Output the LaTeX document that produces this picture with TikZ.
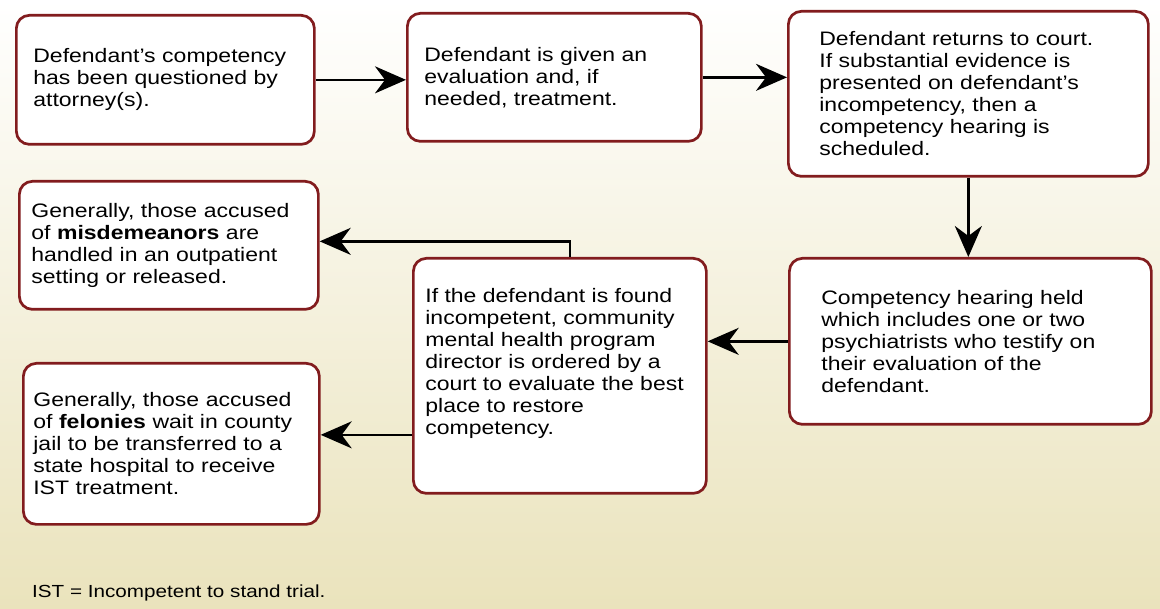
\documentclass[tikz,border=0pt]{standalone}
\usepackage{fontspec}
\setmainfont{Liberation Sans}[FakeStretch=1.18]
\usepackage{tikz}
\usetikzlibrary{calc,positioning,arrows.meta}
\definecolor{boxred}{RGB}{130,28,30}
\definecolor{paper}{RGB}{234,227,188}
\tikzset{stepbox/.style={
        draw=boxred,
        line width=2.7pt,
        rounded corners=13pt,
        fill=white,
        align=left,
        inner sep=0pt,
        anchor=north west,
        font=\fontsize{19.5}{22}\selectfont}
        }
\tikzstyle{arrow}     = [line width=2.5pt,-{Stealth[length=31pt,width=27pt,inset=10pt]}]

\begin{document}
\begin{tikzpicture}[x=1pt,y=-1pt]
		\shade[top color=white,middle color=paper!45,bottom color=paper] (0,0) rectangle (1160,609);
		\useasboundingbox (0,0) rectangle (1160,609);

		% top row
		\node[stepbox,minimum width=298pt,minimum height=129pt,text width=264pt] (asked) at (15,14)
			{Defendant's competency\\has been questioned by\\attorney(s).};
		\node[stepbox,minimum width=294pt,minimum height=128pt,text width=260pt] (eval) at (406,12)
			{Defendant is given an\\evaluation and, if\\needed, treatment.};
		\node[stepbox,minimum width=360pt,minimum height=165pt,text width=298pt] (court) at (787,10)
			{Defendant returns to court.\\If substantial evidence is\\presented on defendant's\\incompetency, then a\\competency hearing is\\scheduled.};

		% lower rows
		\node[stepbox,minimum width=362pt,minimum height=166pt,text width=298pt] (hearing) at (788,257)
			{Competency hearing held\\which includes one or two\\psychiatrists who testify on\\their evaluation of the\\defendant.};
		\node[stepbox,minimum width=293pt,minimum height=235pt] (director) at (412,257)
			{\parbox[c][175pt][t]{269pt}{\raggedright If the defendant is found\\incompetent, community\\mental health program\\director is ordered by a\\court to evaluate the best\\place to restore\\competency.}};
		\node[stepbox,minimum width=299pt,minimum height=128pt,text width=275pt] (misdem) at (18,180)
			{Generally, those accused\\of \textbf{misdemeanors} are\\handled in an outpatient\\setting or released.};
		\node[stepbox,minimum width=296pt,minimum height=161pt,text width=276pt] (felony) at (22,362)
			{Generally, those accused\\of \textbf{felonies} wait in county\\jail to be transferred to a\\state hospital to receive\\IST treatment.};

		\node[anchor=base west,inner sep=0pt,font=\fontsize{17.5}{21}\selectfont] (note) at (32,597)
			{IST = Incompetent to stand trial.};

		\coordinate (misdemin) at ([yshift=4pt]misdem.east);
		\coordinate (felonyin) at ([yshift=9pt]felony.east);

		\draw[arrow] (asked.east) -- (asked.east -| eval.west);
		\draw[arrow] (eval.east) -- (eval.east -| court.west);
		\draw[arrow] (court.south) -- (court.south |- hearing.north);
		\draw[arrow] (hearing.west) -- (hearing.west -| director.east);
		\draw[arrow] ([xshift=10pt]director.north) |- (misdemin);
		\draw[arrow] (felonyin -| director.west) -- (felonyin);
	\end{tikzpicture}
\end{document}
